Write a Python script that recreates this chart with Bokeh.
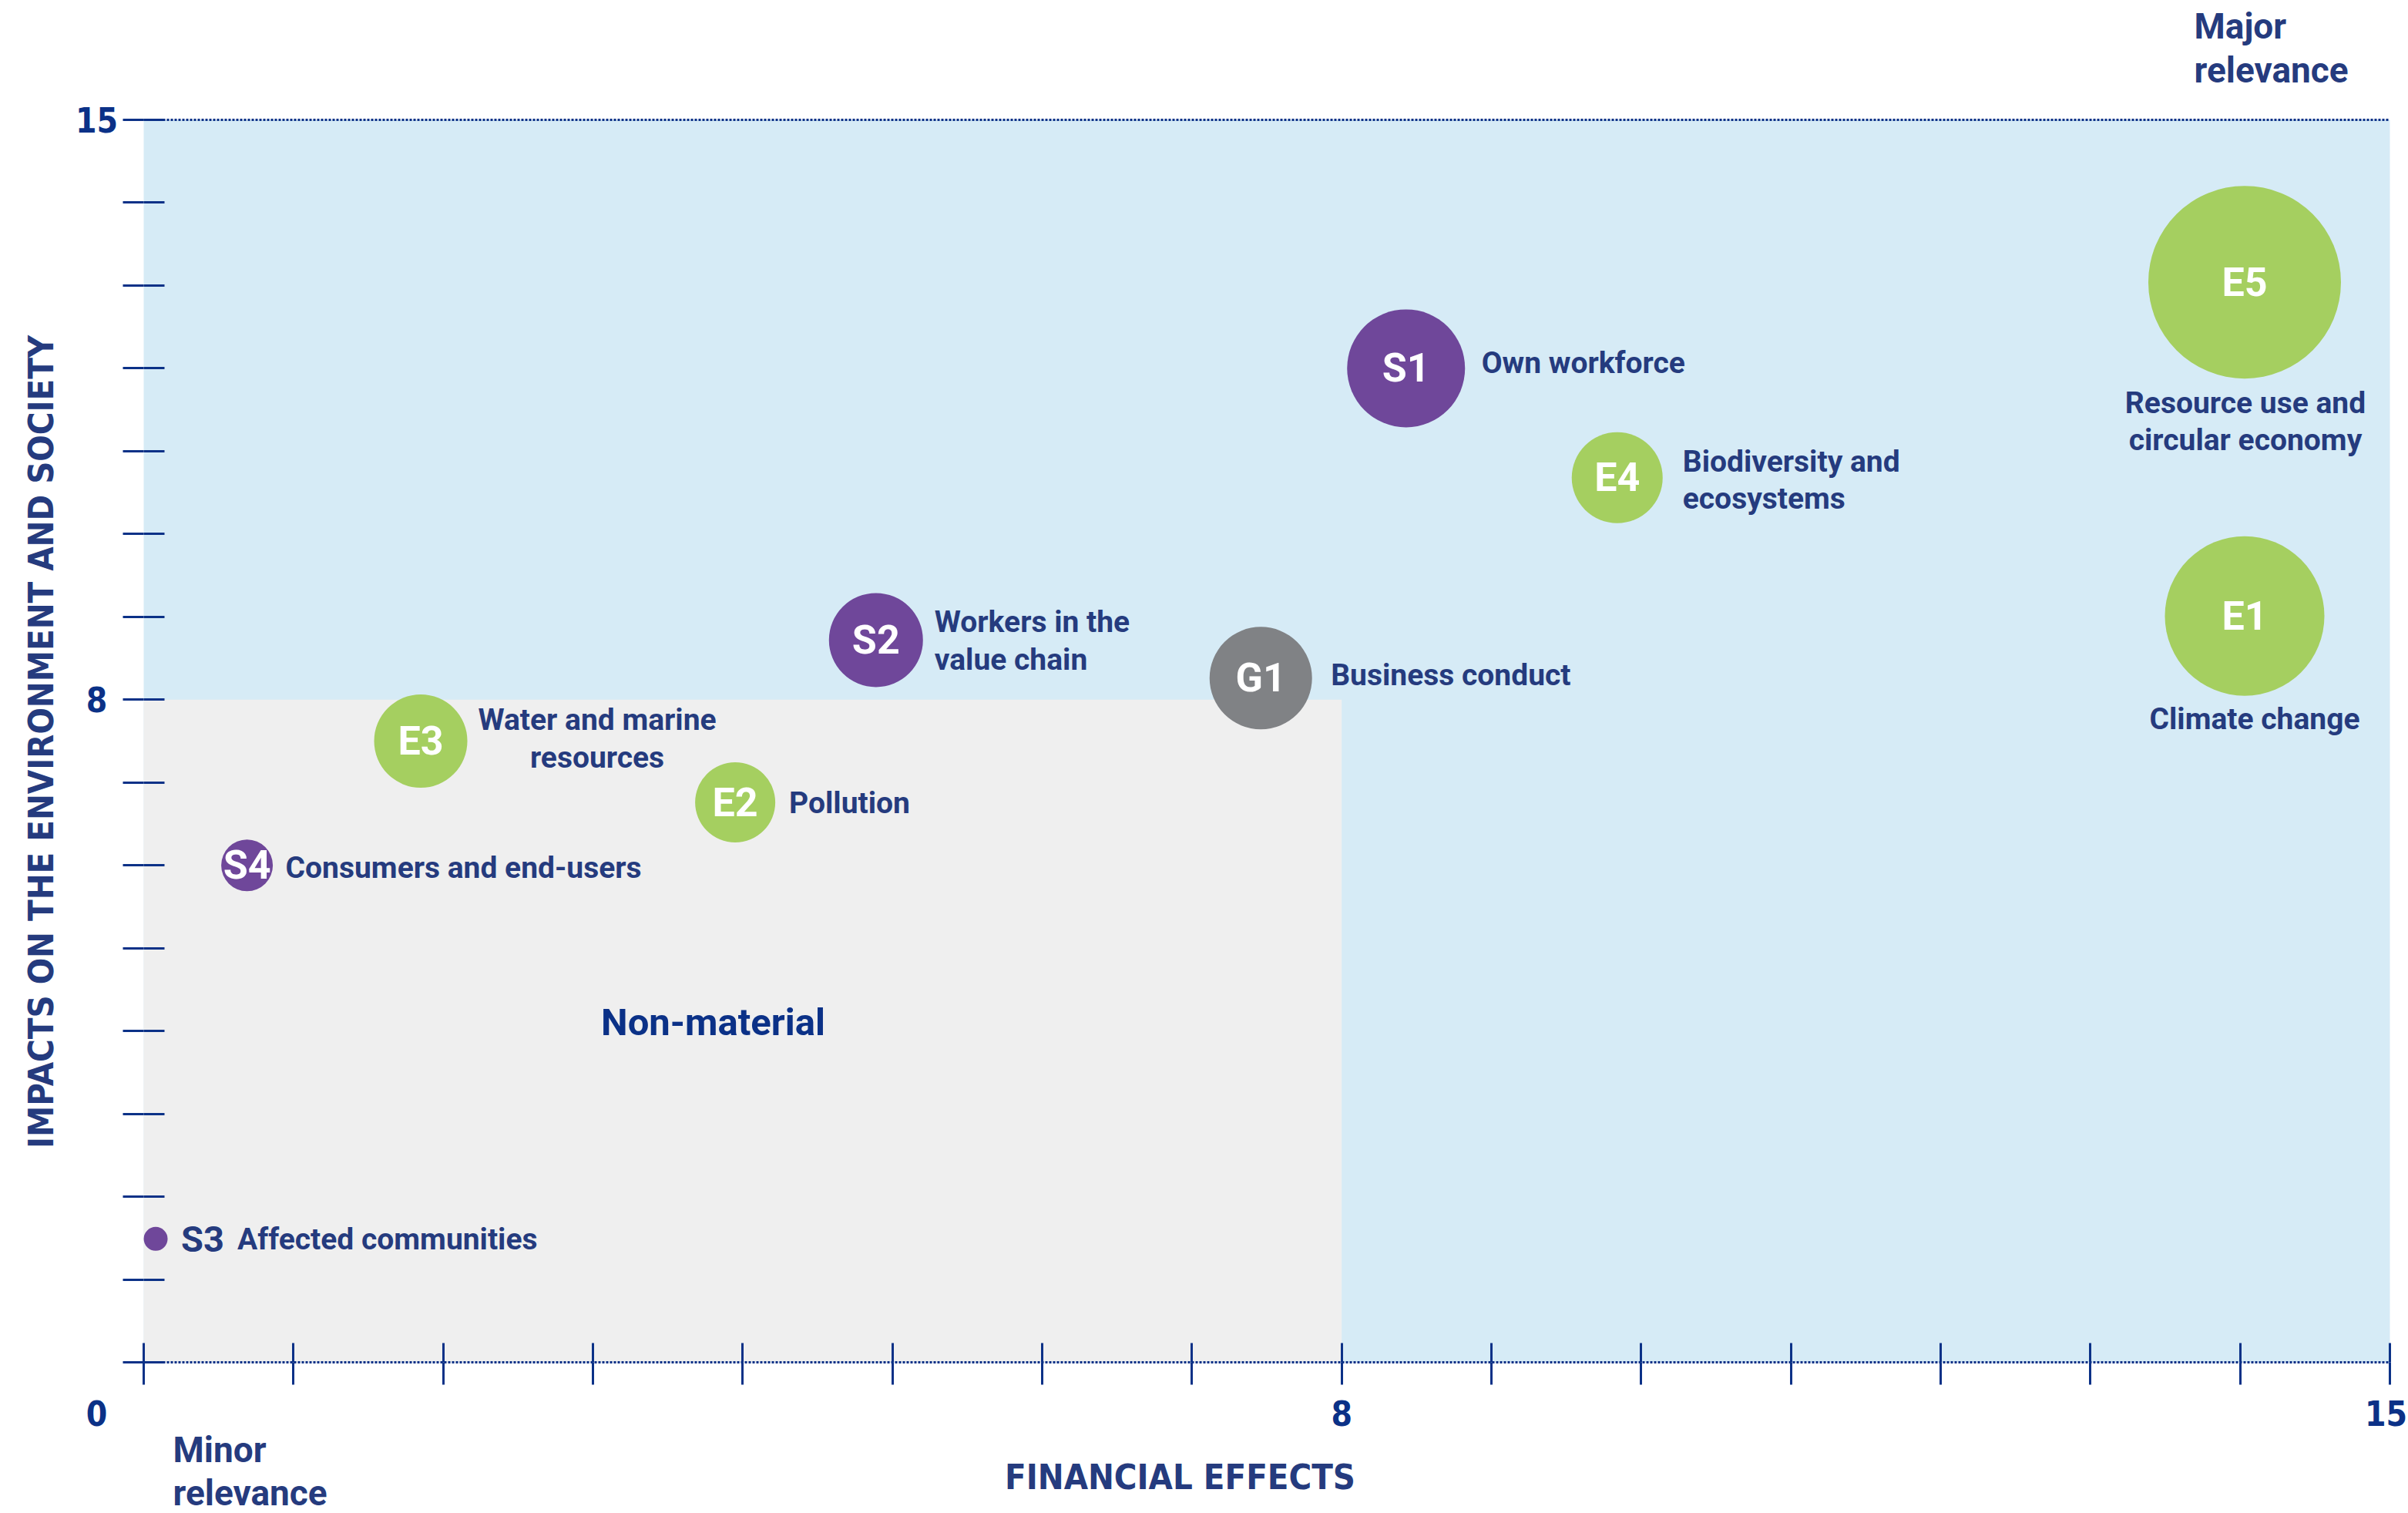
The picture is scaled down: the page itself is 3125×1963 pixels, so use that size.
import math
from bokeh.plotting import figure
from bokeh.models import ColumnDataSource, FixedTicker, LinearAxis
from bokeh.core.properties import value
from bokeh.embed import file_html
from bokeh.resources import INLINE

# ---------------- data ----------------
codes = ["E1", "E2", "E3", "E4", "E5", "S1", "S2", "S3", "S4", "G1"]
names = ["Climate change", "Pollution", "Water and marine\nresources",
         "Biodiversity and\necosystems", "Resource use and\ncircular economy",
         "Own workforce", "Workers in the\nvalue chain", "Affected communities",
         "Consumers and end-users", "Business conduct"]
pillars = ["E", "E", "E", "E", "E", "S", "S", "S", "S", "G"]
financial_effects = [14.03, 3.95, 1.85, 9.84, 14.03, 8.43, 4.89, 0.08, 0.69, 7.46]
impacts = [9.01, 6.76, 7.50, 10.68, 13.04, 12.00, 8.72, 1.49, 6.00, 8.26]
bubble_diameter = [207, 104, 121, 118, 250, 153, 122, 31, 67, 133]

scale_max = 15
threshold = 8
tick_values = list(range(0, 16))
labelled_ticks = [8, 15]
origin_label = "0"
x_title = "FINANCIAL EFFECTS"
y_title = "IMPACTS ON THE ENVIRONMENT AND SOCIETY"

# ---------------- styles / layout ----------------
pillar_colors = {"E": "#A5CF60", "S": "#6F479A", "G": "#808285"}
NAVY = "#253B7E"
TICK_NAVY = "#0B3187"
FONT = "Roboto"
COND = "DejaVu Sans Condensed"

W, H = 3125, 1963
# frame fills the canvas; the 0..15 square sits at px 186..3101 x 155..1767
PX_X0, PX_X15, PX_Y15, PX_Y0 = 186, 3101, 155, 1767
sx = (PX_X15 - PX_X0) / scale_max
sy = (PX_Y0 - PX_Y15) / scale_max
x_start, x_end = -PX_X0 / sx, (W - PX_X0) / sx
y_start, y_end = (PX_Y0 - H) / sy, PX_Y0 / sy

def dx(px):  # canvas px -> data x
    return (px - PX_X0) / sx

def dy(py):  # canvas px -> data y
    return (PX_Y0 - py) / sy

# label placement (screen px offset from bubble centre, align)
label_layout = {
    "E1": (13, 134, "center"), "E2": (70, 1, "left"), "E3": (229, -3, "center"),
    "E4": (85, 3, "left"), "E5": (1, 181, "center"), "S1": (98, -7, "left"),
    "S2": (76, 1, "left"), "S3": (106, 1, "left"), "S4": (50, 3, "left"),
    "G1": (91, -4, "left"),
}
inline_code = {"S3": 33}  # code drawn next to (not inside) the tiny bubble
x_tick_label_shift = {8: 0, 15: -5}

p = figure(width=W, height=H, x_range=(x_start, x_end), y_range=(y_start, y_end),
           output_backend="svg", toolbar_location=None,
           x_axis_location=None, y_axis_location=None,
           min_border_left=0, min_border_right=0, min_border_top=0,
           min_border_bottom=0)
p.outline_line_color = None
p.grid.visible = False
p.background_fill_color = "white"
p.border_fill_color = "white"

# zones
p.quad(left=0, right=scale_max, bottom=0, top=scale_max,
       fill_color="#D6EBF6", line_color=None)
p.quad(left=0, right=threshold, bottom=0, top=threshold,
       fill_color="#EFEFEF", line_color=None)

# dotted bottom / top border lines of the scale
p.segment(x0=[0, 0], y0=[0, scale_max], x1=[scale_max, scale_max],
          y1=[0, scale_max], line_color=TICK_NAVY, line_width=3, line_dash="3 2")

# axes: tick marks crossing the 0 lines (two half-axes each)
def tick_axis(side, tin):
    ax = LinearAxis(fixed_location=0, ticker=FixedTicker(ticks=tick_values),
                    major_tick_in=tin, major_tick_out=0,
                    major_tick_line_color=TICK_NAVY, major_tick_line_width=3,
                    minor_tick_line_color=None, axis_line_color=None,
                    major_label_text_font_size="0px", major_label_standoff=0,
                    major_label_overrides={t: "" for t in tick_values})
    p.add_layout(ax, side)

tick_axis("left", 27)
tick_axis("right", 27)
tick_axis("below", 25)
tick_axis("above", 29)

# tick labels
lab_y = dy(1833)
lab_x = dx(125)
tick_style = dict(text_color=TICK_NAVY, text_font=value(COND), text_font_style="bold",
                  text_font_size="44px", text_align="center", text_baseline="middle")
p.text(x=labelled_ticks, y=[lab_y] * len(labelled_ticks),
       x_offset=[x_tick_label_shift[t] for t in labelled_ticks],
       text=[str(t) for t in labelled_ticks], **tick_style)
p.text(x=[lab_x] * len(labelled_ticks), y=labelled_ticks,
       text=[str(t) for t in labelled_ticks], **tick_style)
p.text(x=[lab_x], y=[lab_y], text=[origin_label], **tick_style)

# axis titles
p.text(x=[dx(1531)], y=[dy(1916)], text=[x_title],
       text_color=NAVY, text_font=value(COND), text_font_style="bold",
       text_font_size="45px", text_align="center", text_baseline="middle")
p.text(x=[dx(53)], y=[dy(962)], text=[y_title],
       angle=math.pi / 2, text_color=NAVY, text_font=value(COND),
       text_font_style="bold", text_font_size="45px", text_align="center",
       text_baseline="middle")

# corner notes
note_style = dict(text_color=NAVY, text_font=value(FONT), text_font_style="bold",
                  text_font_size="46px", text_align="left", text_baseline="middle")
p.text(x=[dx(2847)] * 2, y=[dy(33), dy(90)], text=["Major", "relevance"], **note_style)
p.text(x=[dx(224)] * 2, y=[dy(1880), dy(1936)], text=["Minor", "relevance"], **note_style)
p.text(x=[dx(925)], y=[dy(1326)], text=["Non-material"],
       text_color=TICK_NAVY, text_font=value(FONT), text_font_style="bold",
       text_font_size="49px", text_align="center", text_baseline="middle")

# bubbles
src = ColumnDataSource(dict(
    x=financial_effects, y=impacts, d=bubble_diameter,
    color=[pillar_colors[k] for k in pillars], code=codes))
p.scatter(x="x", y="y", size="d", fill_color="color", line_color=None, source=src)

# codes inside bubbles
ins = [i for i, c in enumerate(codes) if c not in inline_code]
p.text(x=[financial_effects[i] for i in ins], y=[impacts[i] for i in ins],
       text=[codes[i] for i in ins], text_color="white",
       text_font=value(FONT), text_font_style="bold", text_font_size="52px",
       text_align="center", text_baseline="middle")
outs = [i for i, c in enumerate(codes) if c in inline_code]
p.text(x=[financial_effects[i] for i in outs], y=[impacts[i] for i in outs],
       text=[codes[i] for i in outs], x_offset=[inline_code[codes[i]] for i in outs],
       text_color=NAVY, text_font=value(FONT), text_font_style="bold",
       text_font_size="47px", text_align="left", text_baseline="middle")

# descriptions
for align in ("left", "center"):
    idx = [i for i, c in enumerate(codes) if label_layout[c][2] == align]
    p.text(x=[financial_effects[i] for i in idx], y=[impacts[i] for i in idx],
           text=[names[i] for i in idx],
           x_offset=[label_layout[codes[i]][0] for i in idx],
           y_offset=[label_layout[codes[i]][1] for i in idx],
           text_color=NAVY, text_font=value(FONT), text_font_style="bold",
           text_font_size="39px", text_align=align, text_baseline="middle",
           text_line_height=1.05)

open("out.html", "w").write(file_html(p, INLINE))
